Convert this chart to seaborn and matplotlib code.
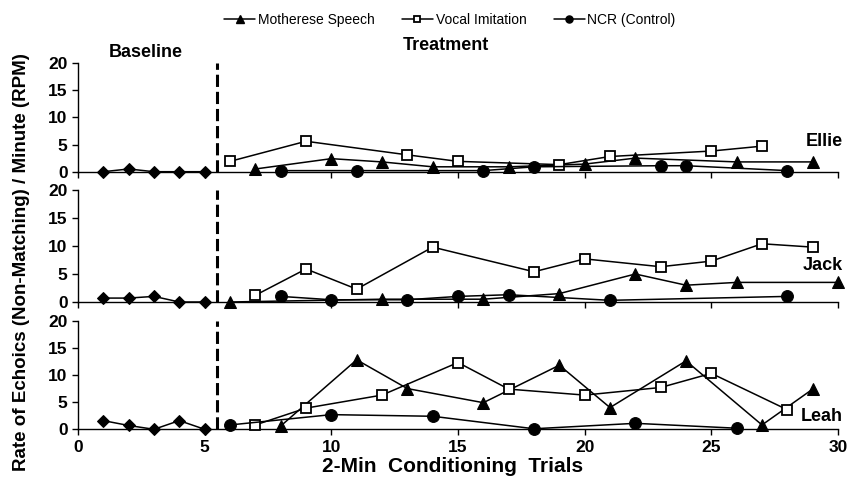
import matplotlib
matplotlib.use("Agg")
import matplotlib.pyplot as plt
import seaborn as sns
import pandas as pd
from matplotlib.lines import Line2D

# ---------------- data ----------------
participants = ["Ellie", "Jack", "Leah"]
conditions = ["Motherese Speech", "Vocal Imitation", "NCR (Control)"]

baseline_x = [1, 2, 3, 4, 5]
baseline_ellie = [0.0, 0.5, 0.0, 0.0, 0.0]
baseline_jack = [0.7, 0.7, 1.0, 0.0, 0.0]
baseline_leah = [1.6, 0.7, 0.0, 1.6, 0.0]

ellie_motherese_x = [7, 10, 12, 14, 17, 20, 22, 26, 29]
ellie_motherese_y = [0.5, 2.4, 1.8, 0.9, 0.9, 1.4, 2.5, 1.8, 1.8]
ellie_vocal_x = [6, 9, 13, 15, 19, 21, 25, 27]
ellie_vocal_y = [1.9, 5.6, 3.1, 1.9, 1.3, 2.8, 3.8, 4.7]
ellie_ncr_x = [8, 11, 16, 18, 23, 24, 28]
ellie_ncr_y = [0.2, 0.2, 0.2, 0.9, 1.1, 1.1, 0.2]

jack_motherese_x = [6, 12, 16, 19, 22, 24, 26, 30]
jack_motherese_y = [0.0, 0.5, 0.5, 1.5, 5.0, 3.0, 3.5, 3.5]
jack_vocal_x = [7, 9, 11, 14, 18, 20, 23, 25, 27, 29]
jack_vocal_y = [1.2, 5.9, 2.3, 9.8, 5.4, 7.7, 6.3, 7.3, 10.4, 9.8]
jack_ncr_x = [8, 10, 13, 15, 17, 21, 28]
jack_ncr_y = [1.0, 0.4, 0.4, 1.0, 1.3, 0.3, 1.0]

leah_motherese_x = [8, 11, 13, 16, 19, 21, 24, 27, 29]
leah_motherese_y = [0.6, 12.8, 7.5, 4.9, 11.8, 4.0, 12.6, 0.8, 7.4]
leah_vocal_x = [7, 9, 12, 15, 17, 20, 23, 25, 28]
leah_vocal_y = [0.8, 3.9, 6.3, 12.3, 7.4, 6.3, 7.7, 10.3, 3.6]
leah_ncr_x = [6, 10, 14, 18, 22, 26]
leah_ncr_y = [0.8, 2.7, 2.4, 0.1, 1.1, 0.2]

x_ticks = [0, 5, 10, 15, 20, 25, 30]
y_ticks = [0, 5, 10, 15, 20]
phase_change = 5.5

panel_data = {
    "Ellie": (baseline_ellie, [(ellie_motherese_x, ellie_motherese_y),
                               (ellie_vocal_x, ellie_vocal_y),
                               (ellie_ncr_x, ellie_ncr_y)]),
    "Jack": (baseline_jack, [(jack_motherese_x, jack_motherese_y),
                             (jack_vocal_x, jack_vocal_y),
                             (jack_ncr_x, jack_ncr_y)]),
    "Leah": (baseline_leah, [(leah_motherese_x, leah_motherese_y),
                             (leah_vocal_x, leah_vocal_y),
                             (leah_ncr_x, leah_ncr_y)]),
}

# ---------------- style ----------------
sns.set_theme(style="white")
plt.rcParams["font.family"] = ["Liberation Sans", "DejaVu Sans"]
plt.rcParams["text.color"] = "black"
plt.rcParams["axes.labelcolor"] = "black"
plt.rcParams["xtick.color"] = "black"
plt.rcParams["ytick.color"] = "black"

marker_styles = {
    "Motherese Speech": dict(marker="^", markersize=8.5, markerfacecolor="black",
                             markeredgecolor="black"),
    "Vocal Imitation": dict(marker="s", markersize=7.5, markerfacecolor="white",
                            markeredgecolor="black", markeredgewidth=1.3),
    "NCR (Control)": dict(marker="o", markersize=8.5, markerfacecolor="black",
                          markeredgecolor="black"),
}

W, H = 862, 482
fig = plt.figure(figsize=(W / 100, H / 100), dpi=100)

# pixel boxes (top, bottom) for each panel
boxes = {"Ellie": (63, 171.7), "Jack": (190, 302), "Leah": (320.7, 429.3)}
name_y = {"Ellie": 5.5, "Jack": 6.6, "Leah": 2.3}
left_px, right_px = 78, 838

axes = {}
for name in participants:
    top, bot = boxes[name]
    ax = fig.add_axes([left_px / W, 1 - bot / H, (right_px - left_px) / W, (bot - top) / H])
    axes[name] = ax
    base_y, series = panel_data[name]

    sns.lineplot(x=baseline_x, y=base_y, ax=ax, color="black", linewidth=1.1,
                 marker="D", markersize=6, markerfacecolor="black",
                 markeredgecolor="black", clip_on=False, zorder=3)
    for cond, (xs, ys) in zip(conditions, series):
        sns.lineplot(x=xs, y=ys, ax=ax, color="black", linewidth=1.1,
                     clip_on=False, zorder=3, **marker_styles[cond])

    ax.axvline(phase_change, color="black", linewidth=2.2, dashes=(4, 1.6), zorder=2)

    ax.set_xlim(0, 30)
    ax.set_ylim(0, 20)
    ax.set_xticks(x_ticks)
    ax.set_yticks(y_ticks)
    ax.set_xlabel("")
    ax.set_ylabel("")
    for s in ["top", "right"]:
        ax.spines[s].set_visible(False)
    for s in ["left", "bottom"]:
        ax.spines[s].set_color("black")
        ax.spines[s].set_linewidth(1.0)
    ax.tick_params(axis="both", direction="out", length=4, width=1.0,
                   colors="black", bottom=True, left=True, labelsize=12.5)
    for lab in ax.get_yticklabels():
        lab.set_fontweight("bold")
    if name != "Leah":
        ax.tick_params(axis="x", labelbottom=False)
    else:
        for lab in ax.get_xticklabels():
            lab.set_fontweight("bold")
    if ax.get_legend() is not None:
        ax.get_legend().remove()

    ax.text(30.2, name_y[name], name, ha="right", va="center",
            fontsize=13, fontweight="bold", color="black", clip_on=False)

# phase labels
fig.text(146 / W, 1 - 52 / H, "Baseline", ha="center", va="center",
         fontsize=13, fontweight="bold", color="black")
fig.text(446 / W, 1 - 45 / H, "Treatment", ha="center", va="center",
         fontsize=13, fontweight="bold", color="black")

# axis labels
fig.text(453 / W, 1 - 466 / H, "2-Min  Conditioning  Trials", ha="center",
         va="center", fontsize=15, fontweight="bold", color="black")
fig.text(22 / W, 1 - 262 / H, "Rate of Echoics (Non-Matching) / Minute (RPM)",
         ha="center", va="center", rotation=90, fontsize=13.5, fontweight="bold",
         color="black")

# legend
handles = [Line2D([0], [0], color="black", linewidth=1.1,
                  **{k: (v * 0.6 if k == "markersize" else v)
                     for k, v in marker_styles[c].items()})
           for c in conditions]
leg = fig.legend(handles, conditions, loc="center", bbox_to_anchor=(450 / W, 1 - 20 / H),
                 ncol=3, frameon=False, fontsize=10, handlelength=2.2,
                 handletextpad=0.2, columnspacing=2.0)
for t in leg.get_texts():
    t.set_color("black")

fig.savefig("out.png", dpi=100)
